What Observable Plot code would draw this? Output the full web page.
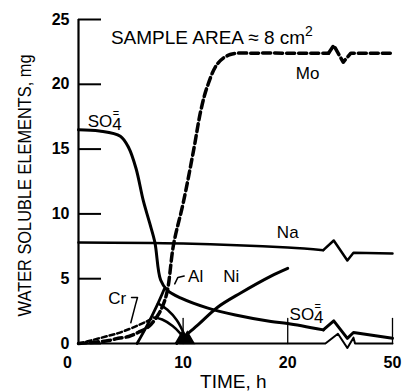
<!DOCTYPE html>
<html><head><meta charset="utf-8">
<script src="https://cdn.jsdelivr.net/npm/d3@7"></script>
<script src="https://cdn.jsdelivr.net/npm/@observablehq/plot@0.6"></script>
<style>
body{margin:0;background:#fff;}
</style></head><body><div id="chart"></div>
<script>
// ---- data (time in h, mass in mg) ----
const xTicks = [0, 10, 20, 50];
const yTicks = [0, 5, 10, 15, 20, 25];

const so4X = [0, 2, 4.0, 4.8, 5.5, 6.2, 6.8, 7.3, 7.85, 8.5, 9.8, 12.3, 15.0, 18.4, 20, 23.4, 24.4, 25.7, 27.7, 50];
const so4Y = [16.5, 16.4, 16.0, 15.1, 13.5, 11.0, 9.3, 7.8, 4.9, 4.1, 3.5, 2.75, 2.2, 1.7, 1.55, 1.05, 1.75, 0.4, 0.85, 0.4];

const naX = [0, 10, 20, 23.4, 24.4, 25.7, 27.7, 50];
const naY = [7.8, 7.72, 7.4, 7.2, 7.95, 6.4, 7.0, 6.95];

const moX = [0, 1.5, 2.9, 3.8, 4.8, 5.7, 6.7, 7.6, 8.1, 8.5, 9.1, 10.0, 11.0, 11.7, 12.3, 13.3, 14.5, 17, 20, 23.9, 24.4, 25.3, 26.2, 50];
const moY = [0, 0.1, 0.23, 0.4, 0.54, 0.85, 1.3, 2.2, 3.0, 4.1, 7.7, 10.8, 14.9, 18.0, 19.8, 21.6, 22.3, 22.4, 22.4, 22.4, 23.0, 21.7, 22.4, 22.4];

const crX = [0, 1.5, 2.9, 3.8, 4.8, 5.7, 6.5, 7.2];
const crY = [0, 0.3, 0.6, 0.8, 1.1, 1.4, 1.7, 2.0];
const crDropX = [7.2, 8.0, 9.0, 9.7, 10.1];
const crDropY = [2.0, 1.85, 1.35, 0.8, 0.3];

const alX = [5.6, 6.5, 7.6, 8.2];
const alY = [0, 1.3, 3.1, 4.2];
const alDropX = [7.6, 8.5, 9.4, 10.0, 10.3];
const alDropY = [3.1, 2.6, 1.8, 0.9, 0.3];

const niX = [9.4, 10, 11.5, 13.3, 15.5, 18.4, 20];
const niY = [0, 0.45, 1.5, 2.8, 3.9, 5.2, 5.8];

const tipX = [9.95, 10.4];
const tipY = [0.35, 0.3];

const axisBreakX = [0, 23.6, 24.8, 25.7, 27.7, 28.6, 50];
const axisBreakY = [0, 0, 0.75, -0.35, 0.45, 0, 0];

const alLeaderX = [9.2, 9.5, 10.1];
const alLeaderY = [4.6, 5.1, 5.2];
const crBracketX = [5.07, 5.64, 5.45, 5.0];
const crBracketY = [3.55, 3.55, 3.0, 1.6];

const labelText = ["SO4=", "Mo", "Na", "Ni", "Al", "Cr", "SO4="];
const labelX = [2.5, 21.9, 20.0, 14.6, 11.2, 3.7, 21.8];
const labelY = [17.1, 20.8, 8.55, 5.2, 5.2, 3.5, 2.25];

const noteText = "SAMPLE AREA \u2248 8 cm2";
const noteX = 3.1, noteY = 23.6;

const xTitle = "TIME, h";
const yTitle = "WATER SOLUBLE ELEMENTS, mg";

// ---- build ----
const pts = (xs, ys) => xs.map((x, i) => ({x, y: ys[i]}));
const FONT = "'Liberation Sans', Arial, sans-serif";
// broken time axis: linear up to 26 h, compressed after the break
const BREAK = 26, SQUEEZE = 0.1673;
const tx = t => t <= BREAK ? t : BREAK + (t - BREAK) * SQUEEZE;
const brk = 23.4;
const so4 = pts(so4X, so4Y), na = pts(naX, naY), mo = pts(moX, moY);
const smooth = d => d.filter(p => p.x <= brk + 0.5);
const tail = d => d.filter(p => p.x >= brk - 0.01);
const tickUp = {draw(ctx, l) { ctx.moveTo(0, 0); ctx.lineTo(0, -l); }};
const y0 = d3.min(yTicks);

const chart = Plot.plot({
  width: 407, height: 392,
  marginTop: 19, marginBottom: 49, marginLeft: 78, marginRight: 15,
  x: {transform: tx, domain: [0, tx(d3.max(xTicks))], axis: null},
  y: {domain: [y0, d3.max(yTicks)]},
  style: {fontFamily: FONT, background: "white", color: "black"},
  marks: [
    // axes
    Plot.ruleX([0], {y1: y0, y2: d3.max(yTicks), strokeWidth: 2.2}),
    Plot.line(pts(axisBreakX, axisBreakY), {x: "x", y: "y", strokeWidth: 2}),
    Plot.axisY({ticks: yTicks, tickSize: -23, strokeWidth: 2, fill: "none", label: null}),
    Plot.axisY({ticks: yTicks, tickSize: 0, tickPadding: 9, fontSize: 16, fontWeight: "bold", label: null}),
    Plot.vector(xTicks.filter(t => t > 0), {x: d => d, y: y0, length: 25, rotate: 0, anchor: "start", shape: tickUp, strokeWidth: 1.3}),
    Plot.text(xTicks.filter(t => t > 0), {x: d => d, y: y0, dy: 19, text: d => String(d), fontSize: 16, fontWeight: "bold"}),
    Plot.text(xTicks.filter(t => t === 0), {x: d => d, y: y0, dx: -11, dy: 19, text: d => String(d), fontSize: 16, fontWeight: "bold"}),
    // curves
    Plot.line(smooth(so4), {x: "x", y: "y", strokeWidth: 3, curve: "catmull-rom"}),
    Plot.line(tail(so4), {x: "x", y: "y", strokeWidth: 3}),
    Plot.line(smooth(na), {x: "x", y: "y", strokeWidth: 2.5, curve: "catmull-rom"}),
    Plot.line(tail(na), {x: "x", y: "y", strokeWidth: 2.5}),
    Plot.line(mo.filter(p => p.x <= 24), {x: "x", y: "y", strokeWidth: 3.5, strokeDasharray: "8,4", curve: "catmull-rom"}),
    Plot.line(mo.filter(p => p.x >= 23.8), {x: "x", y: "y", strokeWidth: 3.5, strokeDasharray: "8,4"}),
    Plot.line(pts(crX, crY), {x: "x", y: "y", strokeWidth: 2.5, strokeDasharray: "5,3", curve: "catmull-rom"}),
    Plot.line(pts(crDropX, crDropY), {x: "x", y: "y", strokeWidth: 2.5, curve: "catmull-rom"}),
    Plot.line(pts(alX, alY), {x: "x", y: "y", strokeWidth: 2.8, curve: "catmull-rom"}),
    Plot.line(pts(alDropX, alDropY), {x: "x", y: "y", strokeWidth: 2.5, curve: "catmull-rom"}),
    Plot.line(pts(niX, niY), {x: "x", y: "y", strokeWidth: 3, curve: "catmull-rom"}),
    Plot.dot(pts(tipX, tipY), {x: "x", y: "y", symbol: "triangle", r: 5, fill: "black", stroke: "black"}),
    Plot.line(pts(alLeaderX, alLeaderY), {x: "x", y: "y", strokeWidth: 1.5}),
    Plot.line(pts(crBracketX, crBracketY), {x: "x", y: "y", strokeWidth: 1.5}),
    // labels
    Plot.text(labelText.map((t, i) => ({t, x: labelX[i], y: labelY[i]})), {x: "x", y: "y", text: "t", fontSize: 17, className: "lbl"}),
    Plot.text([noteText], {x: noteX, y: noteY, text: d => d, textAnchor: "start", fontSize: 19, className: "note"}),
    Plot.text([xTitle], {x: 14.8, y: y0, dy: 38, text: d => d, fontSize: 19}),
    Plot.text([yTitle], {x: 0, dx: -53, y: 12.2, rotate: -90, textAnchor: "middle", text: d => d, fontSize: 18, className: "ytitle"})
  ]
});
document.getElementById("chart").append(chart);

// rich text: SO4 with charge mark, cm with superscript 2
d3.select(chart).selectAll(".lbl text").each(function() {
  const el = d3.select(this);
  if (el.text() === "SO4=") {
    el.text("SO");
    el.append("tspan").attr("dy", 3).text("4");
    el.append("tspan").attr("dx", -9).attr("dy", -13).attr("font-size", 11).text("=");
  }
});
d3.select(chart).selectAll(".note text").each(function() {
  const el = d3.select(this);
  const s = el.text();
  if (s.endsWith("2")) {
    el.text(s.slice(0, -1));
    el.append("tspan").attr("dy", -8).attr("font-size", 14).text("2");
  }
});
d3.select(chart).selectAll(".ytitle text").attr("textLength", 262).attr("lengthAdjust", "spacingAndGlyphs");
</script></body></html>
